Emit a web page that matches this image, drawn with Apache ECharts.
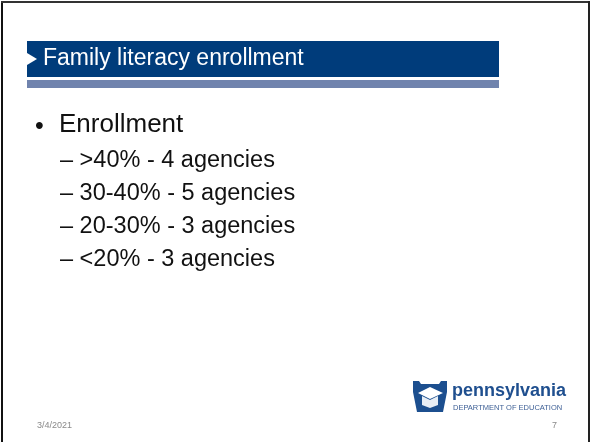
<!DOCTYPE html>
<html>
<head>
<meta charset="utf-8">
<script src="https://cdn.jsdelivr.net/npm/echarts@6/dist/echarts.min.js"></script>
<style>
  html, body { margin: 0; padding: 0; background: #ffffff; }
  #chart { width: 591px; height: 442px; }
</style>
</head>
<body>
<div id="chart"></div>
<script>
// slide content
var title = 'Family literacy enrollment';
var heading = 'Enrollment';
var ranges = ['>40%', '30-40%', '20-30%', '<20%'];
var agencies = [4, 5, 3, 3];
var dateText = '3/4/2021';
var pageNo = '7';

var font = 'Arial, "Liberation Sans", sans-serif';

var chart = echarts.init(document.getElementById('chart'), null, { renderer: 'canvas' });

var items = [
  // slide frame
  { type: 'rect', shape: { x: 0, y: 0, width: 591, height: 442 }, style: { fill: '#ffffff' } },
  { type: 'rect', shape: { x: 1, y: 1, width: 2, height: 441 }, style: { fill: '#111111' } },
  { type: 'rect', shape: { x: 1, y: 1, width: 589, height: 2 }, style: { fill: '#333333' } },
  { type: 'rect', shape: { x: 588, y: 1, width: 2, height: 441 }, style: { fill: '#222222' } },
  // title bar
  { type: 'rect', shape: { x: 27, y: 41, width: 472, height: 36 }, style: { fill: '#003c7b' } },
  { type: 'polygon', shape: { points: [[27, 53], [37, 59], [27, 65]] }, style: { fill: '#ffffff' } },
  { type: 'rect', shape: { x: 27, y: 80, width: 472, height: 8 }, style: { fill: '#7083ad' } },
  { type: 'text', x: 43, y: 59, style: { text: title, fill: '#ffffff', font: '23px ' + font, textVerticalAlign: 'middle' } },
  // bullet
  { type: 'text', x: 35, y: 127, style: { text: '•', fill: '#111111', font: '25px ' + font, textVerticalAlign: 'middle' } },
  { type: 'text', x: 59, y: 125, style: { text: heading, fill: '#111111', font: '26px ' + font, textVerticalAlign: 'middle' } }
];

ranges.forEach(function (r, i) {
  items.push({
    type: 'text', x: 60, y: 161 + i * 33,
    style: { text: '\u2013 ' + r + ' - ' + agencies[i] + ' agencies', fill: '#111111', font: '23.5px ' + font, textVerticalAlign: 'middle' }
  });
});

// footer
items.push(
  { type: 'text', x: 37, y: 426, style: { text: dateText, fill: '#8a8a8a', font: '9px ' + font, textVerticalAlign: 'middle' } },
  { type: 'text', x: 557, y: 426, style: { text: pageNo, fill: '#8a8a8a', font: '9px ' + font, textVerticalAlign: 'middle', textAlign: 'right' } },
  // keystone logo
  { type: 'polygon', shape: { points: [[413, 381], [419, 381], [421, 384], [439, 384], [441, 381], [447, 381], [447, 392], [443, 412], [417, 412], [413, 392]] }, style: { fill: '#1c4f8f' } },
  { type: 'polygon', shape: { points: [[418, 393], [430, 387], [443, 393], [430, 399]] }, style: { fill: '#ffffff' } },
  { type: 'polygon', shape: { points: [[422, 396], [430, 400], [438, 396], [438, 405], [430, 408], [422, 405]] }, style: { fill: '#e8eef5' } },
  { type: 'text', x: 452, y: 391, style: { text: 'pennsylvania', fill: '#1f4f8f', font: 'bold 18px ' + font, textVerticalAlign: 'middle' } },
  { type: 'text', x: 453, y: 408, style: { text: 'DEPARTMENT OF EDUCATION', fill: '#3d5f95', font: '7.5px ' + font, textVerticalAlign: 'middle' } }
);

chart.setOption({
  animation: false,
  graphic: { elements: items }
});
</script>
</body>
</html>
